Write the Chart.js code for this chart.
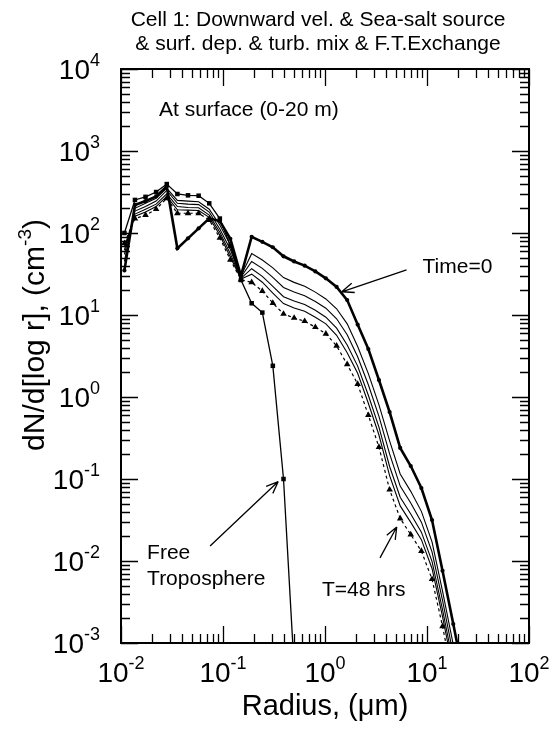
<!DOCTYPE html>
<html>
<head>
<meta charset="utf-8">
<script src="https://cdn.jsdelivr.net/npm/chart.js@4"></script>
<style>
  html, body { margin: 0; padding: 0; background: #fff; }
  canvas { display: block; }
</style>
</head>
<body>
<canvas id="chart" width="550" height="743"></canvas>
<script>
// size bins (um)
const radius = [0.0108, 0.0137, 0.0174, 0.0221, 0.0281, 0.0357, 0.0454, 0.0577, 0.0733, 0.0931,
  0.118, 0.150, 0.191, 0.243, 0.308, 0.392, 0.498, 0.632, 0.804, 1.02,
  1.30, 1.65, 2.09, 2.66, 3.38, 4.30, 5.46, 6.93, 8.81, 11.2,
  14.2, 18.1, 23.0];

const time0 = [35, 220, 245, 280, 370, 65, 86, 114, 151, 140,
  85, 30, 90, 78, 67, 52, 45, 40, 34, 28,
  22, 15.2, 7.65, 3.85, 1.61, 0.656, 0.239, 0.144, 0.0776, 0.0316,
  0.0076, 0.0017, 0.00038];
const step1 = [45, 200, 230, 265, 350, 250, 245, 240, 195, 125,
  72, 30, 56, 46.8, 37.5, 28.6, 25.0, 22.4, 19.0, 15.7,
  11.9, 7.8, 4.12, 1.93, 0.80, 0.292, 0.115, 0.0707, 0.0403, 0.0171,
  0.0043, 0.00095, null];
const step2 = [55, 185, 210, 245, 330, 230, 225, 222, 180, 112,
  63, 29, 45, 37.0, 28.8, 21.7, 19.1, 17.2, 14.6, 12.1,
  9.0, 5.74, 3.10, 1.41, 0.58, 0.202, 0.082, 0.051, 0.0298, 0.0129,
  0.0033, 0.00072, null];
const step3 = [62, 170, 195, 225, 300, 210, 205, 203, 165, 102,
  56, 28, 36.7, 29.6, 22.4, 16.7, 14.8, 13.4, 11.4, 9.4,
  6.9, 4.3, 2.38, 1.05, 0.43, 0.142, 0.060, 0.0374, 0.0225, 0.0099,
  0.00255, 0.00056, null];
const step4 = [68, 160, 180, 210, 280, 192, 190, 188, 155, 94,
  51, 27.5, 31.5, 25.1, 18.5, 13.8, 12.2, 11.1, 9.4, 7.8,
  5.65, 3.46, 1.95, 0.84, 0.344, 0.110, 0.047, 0.0296, 0.0182, 0.0081,
  0.0021, 0.00046, null];
const t48 = [75, 150, 165, 195, 265, 174, 174, 174, 144, 87,
  47, 27, 25, 19.6, 14, 10.3, 9.2, 8.4, 7.1, 5.9,
  4.2, 2.5, 1.44, 0.60, 0.245, 0.074, 0.033, 0.021, 0.0132, 0.0060,
  0.0016, 0.00035, null];
const freeTrop = [100, 253, 276, 316, 395, 299, 288, 285, 230, 150,
  70, 26.7, 13.9, 10.7, 2.4, 0.1, 0.0005];

const xExps = [-2, -1, 0, 1, 2];
const yExps = [-3, -2, -1, 0, 1, 2, 3, 4];

const titleLines = ["Cell 1: Downward vel. & Sea-salt source", "& surf. dep. & turb. mix & F.T.Exchange"];

// annotation anchors in data units [tail, head]
const timeArrow = [[6.3, 35.4], [1.46, 19.2]];
const t48Arrow = [[3.46, 0.0109], [5.05, 0.026]];
const ftArrow = [[0.0747, 0.0152], [0.348, 0.093]];

const FONT = "'Liberation Sans', Arial, sans-serif";

function pts(vals) {
  const out = [];
  vals.forEach((v, i) => { if (v !== null && v !== undefined) out.push({ x: radius[i], y: v }); });
  return out;
}

function thin(vals) {
  return { data: pts(vals), borderColor: "#000", borderWidth: 1.1, pointRadius: 0, fill: false, tension: 0 };
}

const decoPlugin = {
  id: "deco",
  afterDraw(chart) {
    const { ctx, chartArea: a, scales } = chart;
    const x = scales.x, y = scales.y;
    ctx.save();
    ctx.strokeStyle = "#000";
    ctx.fillStyle = "#000";

    // frame
    ctx.lineWidth = 2;
    ctx.strokeRect(a.left, a.top, a.right - a.left, a.bottom - a.top);

    // inward ticks on all four sides
    ctx.lineWidth = 1.3;
    ctx.beginPath();
    for (let e = -2; e <= 2; e++) {
      for (let k = 1; k <= 9; k++) {
        const v = k * Math.pow(10, e);
        if (v > 100.0001) break;
        const px = Math.round(x.getPixelForValue(v)) + 0.5;
        const len = k === 1 ? 17 : 9;
        ctx.moveTo(px, a.bottom); ctx.lineTo(px, a.bottom - len);
        ctx.moveTo(px, a.top); ctx.lineTo(px, a.top + len);
      }
    }
    for (let e = -3; e <= 4; e++) {
      for (let k = 1; k <= 9; k++) {
        const v = k * Math.pow(10, e);
        if (v > 10000.001) break;
        const py = Math.round(y.getPixelForValue(v)) + 0.5;
        const len = k === 1 ? 17 : 9;
        ctx.moveTo(a.left, py); ctx.lineTo(a.left + len, py);
        ctx.moveTo(a.right, py); ctx.lineTo(a.right - len, py);
      }
    }
    ctx.stroke();

    // tick labels with superscripts
    const baseFont = "28px " + FONT, supFont = "18px " + FONT;
    ctx.textBaseline = "alphabetic";
    ctx.textAlign = "left";
    yExps.forEach(e => {
      const py = y.getPixelForValue(Math.pow(10, e));
      ctx.font = supFont;
      const ws = ctx.measureText(String(e)).width;
      ctx.font = baseFont;
      const wb = ctx.measureText("10").width;
      const right = a.left - 21;
      ctx.fillText("10", right - ws - wb, py + 10);
      ctx.font = supFont;
      ctx.fillText(String(e), right - ws, py - 3);
    });
    xExps.forEach(e => {
      const px = x.getPixelForValue(Math.pow(10, e));
      ctx.font = supFont;
      const ws = ctx.measureText(String(e)).width;
      ctx.font = baseFont;
      const wb = ctx.measureText("10").width;
      const start = px - (wb + ws) / 2;
      ctx.fillText("10", start, a.bottom + 39);
      ctx.font = supFont;
      ctx.fillText(String(e), start + wb, a.bottom + 26);
    });

    // axis titles
    ctx.font = "29px " + FONT;
    ctx.textAlign = "center";
    ctx.fillText("Radius, (\u03bcm)", (a.left + a.right) / 2, a.bottom + 72);

    ctx.save();
    ctx.translate(44, 335);
    ctx.rotate(-Math.PI / 2);
    const p1 = "dN/d[log r], (cm", p2 = "-3", p3 = ")";
    ctx.font = "30px " + FONT;
    const w1 = ctx.measureText(p1).width, w3 = ctx.measureText(p3).width;
    ctx.font = "19px " + FONT;
    const w2 = ctx.measureText(p2).width;
    const sx = -(w1 + w2 + w3) / 2;
    ctx.textAlign = "left";
    ctx.font = "30px " + FONT;
    ctx.fillText(p1, sx, 0);
    ctx.font = "19px " + FONT;
    ctx.fillText(p2, sx + w1, -13);
    ctx.font = "30px " + FONT;
    ctx.fillText(p3, sx + w1 + w2, 0);
    ctx.restore();

    // title
    ctx.font = "21px " + FONT;
    ctx.textAlign = "center";
    ctx.fillText(titleLines[0], 318, 26);
    ctx.fillText(titleLines[1], 318, 50);

    // in-plot texts
    ctx.font = "21px " + FONT;
    ctx.textAlign = "left";
    ctx.fillText("At surface (0-20 m)", a.left + 38, a.top + 47);

    const P = (d) => [x.getPixelForValue(d[0]), y.getPixelForValue(d[1])];
    const tA = P(timeArrow[0]);
    ctx.fillText("Time=0", tA[0] + 16, tA[1] + 3);
    const wA = P(t48Arrow[0]);
    ctx.fillText("T=48 hrs", wA[0] - 58, wA[1] + 38);
    const fA = P(ftArrow[0]);
    ctx.fillText("Free", fA[0] - 63, fA[1] + 13);
    ctx.fillText("Troposphere", fA[0] - 63, fA[1] + 39);

    // arrows with open heads
    ctx.lineWidth = 1.3;
    [timeArrow, t48Arrow, ftArrow].forEach(ar => {
      const [x0, y0] = P(ar[0]), [x1, y1] = P(ar[1]);
      const ang = Math.atan2(y1 - y0, x1 - x0);
      ctx.beginPath();
      ctx.moveTo(x0, y0); ctx.lineTo(x1, y1);
      for (const s of [-1, 1]) {
        ctx.moveTo(x1, y1);
        ctx.lineTo(x1 - 13 * Math.cos(ang + s * 0.38), y1 - 13 * Math.sin(ang + s * 0.38));
      }
      ctx.stroke();
    });

    ctx.restore();
  }
};

const ctx = document.getElementById("chart").getContext("2d");
new Chart(ctx, {
  type: "line",
  data: {
    datasets: [
      { data: pts(freeTrop), borderColor: "#000", borderWidth: 1.3, pointStyle: "rect",
        pointRadius: 3.2, pointBackgroundColor: "#000", pointBorderWidth: 0, fill: false, tension: 0 },
      thin(step4),
      thin(step3),
      thin(step2),
      thin(step1),
      { data: pts(t48), borderColor: "#000", borderWidth: 1.2, borderDash: [3, 3], pointStyle: "triangle",
        pointRadius: 3.8, pointBackgroundColor: "#000", pointBorderWidth: 0, fill: false, tension: 0 },
      { data: pts(time0), borderColor: "#000", borderWidth: 2.6, pointStyle: "circle",
        pointRadius: 2.1, pointBackgroundColor: "#000", pointBorderWidth: 0, fill: false, tension: 0 }
    ]
  },
  options: {
    responsive: false,
    animation: false,
    layout: { padding: { left: 121, right: 21, top: 69, bottom: 100 } },
    plugins: { legend: { display: false }, tooltip: { enabled: false }, title: { display: false } },
    scales: {
      x: { type: "logarithmic", min: 0.01, max: 100, display: false },
      y: { type: "logarithmic", min: 0.001, max: 10000, display: false }
    }
  },
  plugins: [decoPlugin]
});
</script>
</body>
</html>
